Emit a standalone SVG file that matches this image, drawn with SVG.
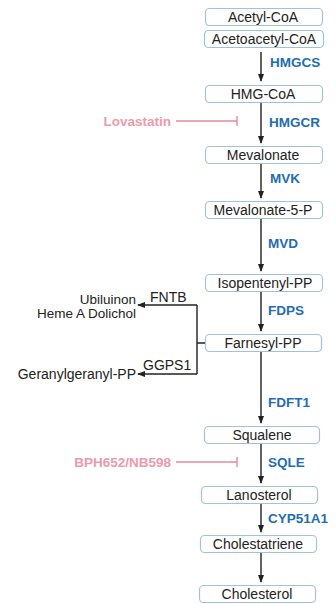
<svg xmlns="http://www.w3.org/2000/svg" width="336" height="604" viewBox="0 0 336 604">
<style>
.box{fill:#fff;stroke:#9fc4da;stroke-width:1.2}
.t{font-family:"Liberation Sans",Arial,sans-serif;font-size:14px;fill:#222;text-anchor:middle}
.tl{font-family:"Liberation Sans",Arial,sans-serif;font-size:14px;fill:#222}
.sm{font-size:13.5px}
.enz{font-family:"Liberation Sans",Arial,sans-serif;font-size:13.5px;font-weight:bold;fill:#1f6db3}
.inh{font-family:"Liberation Sans",Arial,sans-serif;font-size:13.5px;font-weight:bold;fill:#ec9aab;text-anchor:end}
.ar{stroke:#222;stroke-width:1.4;fill:none;marker-end:url(#ah)}
.in{stroke:#e58a9d;stroke-width:1.4;fill:none}
</style>
<defs>
<marker id="ah" markerUnits="userSpaceOnUse" markerWidth="8" markerHeight="6" refX="7" refY="3" orient="auto">
<path d="M0,0 L8,3 L0,6 z" fill="#222"/>
</marker>
</defs>
<g id="acetylcoa"><rect class="box" x="205.5" y="8.5" width="117" height="17" rx="4"/><text class="t" x="263" y="22">Acetyl-CoA</text></g>
<g id="acetoacetylcoa"><rect class="box" x="204.5" y="30.5" width="119" height="17" rx="4"/><text class="t" x="264" y="44">Acetoacetyl-CoA</text></g>
<g id="hmgcoa"><rect class="box" x="205.5" y="85.5" width="117" height="17" rx="4"/><text class="t" x="263" y="99">HMG-CoA</text></g>
<g id="mevalonate"><rect class="box" x="205.5" y="146.5" width="117" height="17" rx="4"/><text class="t" x="263" y="160">Mevalonate</text></g>
<g id="mevalonate5p"><rect class="box" x="205.5" y="201.5" width="117" height="17" rx="4"/><text class="t" x="263" y="215">Mevalonate-5-P</text></g>
<g id="isopentenylpp"><rect class="box" x="205.5" y="274.5" width="117" height="17" rx="4"/><text class="t" x="265" y="288">Isopentenyl-PP</text></g>
<g id="farnesylpp"><rect class="box" x="205.5" y="334.5" width="116" height="17" rx="4"/><text class="t" x="263" y="348">Farnesyl-PP</text></g>
<g id="squalene"><rect class="box" x="204.5" y="426.5" width="115" height="17" rx="4"/><text class="t" x="262" y="440">Squalene</text></g>
<g id="lanosterol"><rect class="box" x="201.5" y="486.5" width="116" height="17" rx="4"/><text class="t" x="259" y="500">Lanosterol</text></g>
<g id="cholestatriene"><rect class="box" x="200.5" y="535.5" width="116" height="17" rx="4"/><text class="t" x="258" y="549">Cholestatriene</text></g>
<g id="cholesterol"><rect class="box" x="199.5" y="585.5" width="116" height="17" rx="4"/><text class="t" x="257" y="599">Cholesterol</text></g>
<g id="side-products">
<text class="tl sm" x="136" y="304" text-anchor="end">Ubiluinon</text>
<text class="tl sm" x="136" y="318" text-anchor="end">Heme A Dolichol</text>
<text class="tl" x="136" y="379" text-anchor="end">Geranylgeranyl-PP</text>
<text class="tl" x="150" y="302">FNTB</text>
<text class="tl" x="143" y="370">GGPS1</text>
</g>
<g id="inhibitors">
<text class="inh" x="171" y="126">Lovastatin</text>
<text class="inh" x="171" y="467">BPH652/NB598</text>
</g>
<g id="enzymes">
<text class="enz" x="270" y="67">HMGCS</text>
<text class="enz" x="269" y="127">HMGCR</text>
<text class="enz" x="270" y="183">MVK</text>
<text class="enz" x="268" y="248">MVD</text>
<text class="enz" x="268" y="315">FDPS</text>
<text class="enz" x="268" y="407">FDFT1</text>
<text class="enz" x="268" y="467">SQLE</text>
<text class="enz" x="268" y="523">CYP51A1</text>
</g>
<g id="connectors">
<path class="ar" d="M261,52 V81"/>
<path class="ar" d="M261,103 V143"/>
<path class="ar" d="M261,164 V198"/>
<path class="ar" d="M261,219 V271"/>
<path class="ar" d="M261,292 V331"/>
<path class="ar" d="M261,352 V423"/>
<path class="ar" d="M261,444 V483"/>
<path class="ar" d="M261,504 V532"/>
<path class="ar" d="M261,553 V582"/>
<path d="M197,305 V374 M197,343 H205" stroke="#222" stroke-width="1.4" fill="none"/>
<path class="ar" d="M197,305 H138"/>
<path class="ar" d="M197,374 H138"/>
<path class="in" d="M176,121 H237 M237,116 V126"/>
<path class="in" d="M176,462 H237 M237,457 V467"/>
</g>
</svg>
